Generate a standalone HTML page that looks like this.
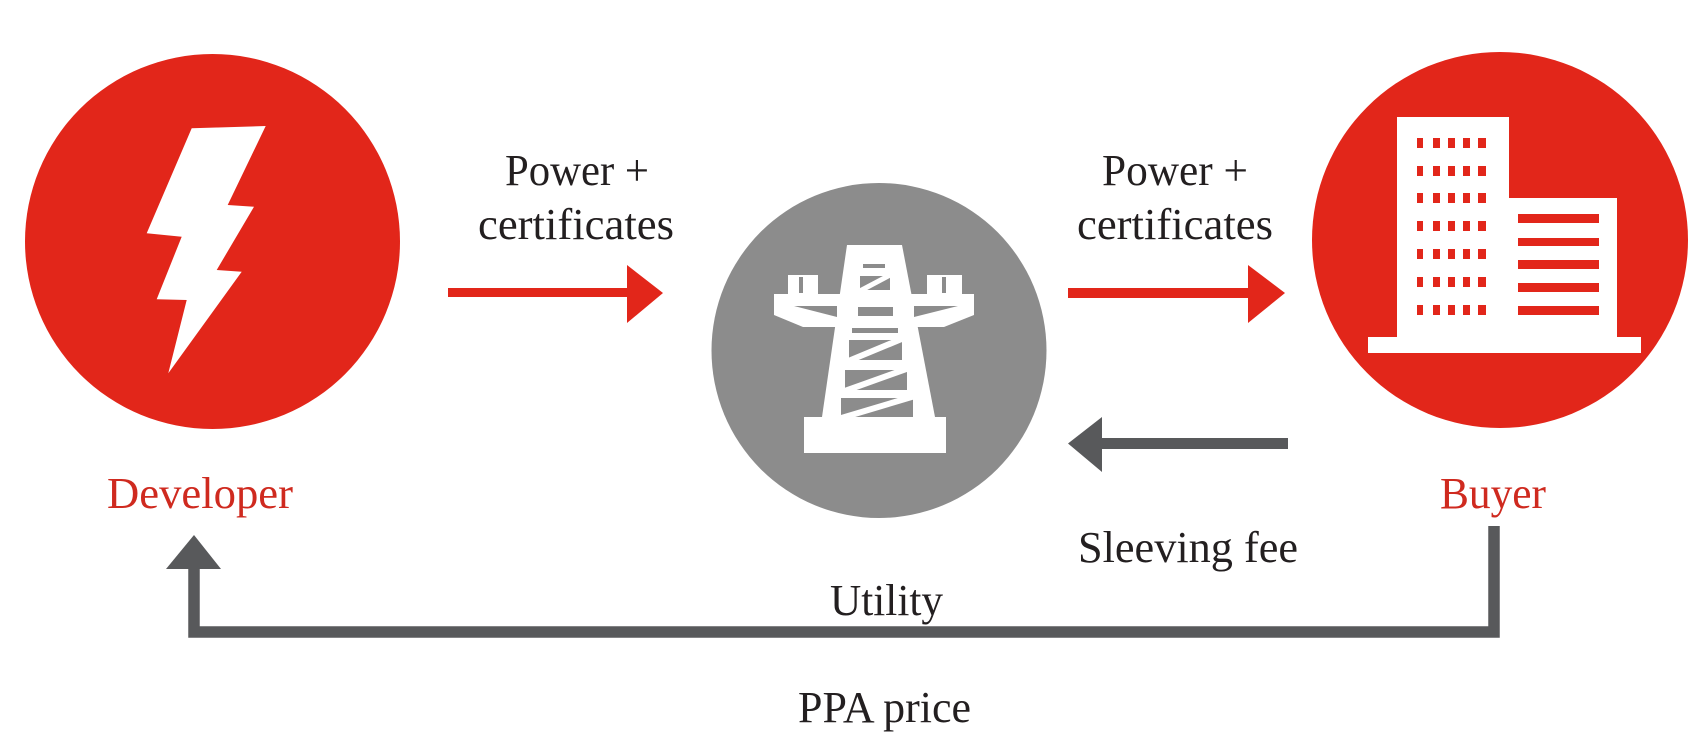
<!DOCTYPE html>
<html>
<head>
<meta charset="utf-8">
<style>
  html, body { margin: 0; padding: 0; background: #ffffff; }
  body { width: 1702px; height: 746px; overflow: hidden; }
  svg { display: block; }
  text { font-family: "Liberation Serif", "DejaVu Serif", serif; font-size: 44px; }
</style>
</head>
<body>
<svg width="1702" height="746" viewBox="0 0 1702 746" xmlns="http://www.w3.org/2000/svg">
  <rect x="0" y="0" width="1702" height="746" fill="#ffffff"/>

  <!-- Developer circle -->
  <circle cx="212.5" cy="241.5" r="187.5" fill="#e2261a"/>
  <polygon fill="#ffffff" points="191.7,128.3 265.7,126 227.7,205 254,206.7 216.7,270 241.7,271.7 168.3,373.3 186.7,300 156.7,299.3 181.7,236.7 146.7,233.3"/>

  <!-- Utility circle -->
  <circle cx="879" cy="350.5" r="167.5" fill="#8c8c8c"/>
  <!-- tower -->
  <g>
    <!-- body -->
    <polygon fill="#ffffff" points="847,245 902,245 935,417 822,417"/>
    <!-- base -->
    <rect x="804" y="417" width="142" height="36" fill="#ffffff"/>
    <!-- crossarm -->
    <polygon fill="#ffffff" points="774,294 974,294 974,315 944,327 803,327 774,315"/>
    <!-- insulators -->
    <rect x="788" y="275" width="30" height="20" fill="#ffffff"/>
    <rect x="927" y="275" width="35" height="20" fill="#ffffff"/>
    <rect x="799" y="277" width="4" height="16" fill="#8c8c8c"/>
    <rect x="942" y="277" width="4" height="16" fill="#8c8c8c"/>
    <!-- crossarm gray wedges -->
    <polygon fill="#8c8c8c" points="794,306 837,306 837,317"/>
    <polygon fill="#8c8c8c" points="914,306 958,306 914,317"/>
    <!-- center crossarm opening -->
    <rect x="858" y="307" width="35" height="9" fill="#8c8c8c"/>
    <!-- top slot -->
    <rect x="863" y="264" width="22" height="4" fill="#8c8c8c"/>
    <!-- opening 1 -->
    <rect x="860" y="276" width="30" height="14" fill="#8c8c8c"/>
    <line x1="858" y1="292" x2="892" y2="274" stroke="#ffffff" stroke-width="5"/>
    <!-- slot 2 -->
    <rect x="852" y="328" width="46" height="5" fill="#8c8c8c"/>
    <!-- opening 2 -->
    <rect x="849" y="340" width="53" height="20" fill="#8c8c8c"/>
    <line x1="846" y1="362" x2="904" y2="338" stroke="#ffffff" stroke-width="6"/>
    <!-- opening 3 -->
    <rect x="845" y="370" width="62" height="20" fill="#8c8c8c"/>
    <line x1="842" y1="392" x2="909" y2="368" stroke="#ffffff" stroke-width="6"/>
    <!-- opening 4 -->
    <rect x="841" y="398" width="72" height="19" fill="#8c8c8c"/>
    <line x1="838" y1="419" x2="915" y2="396" stroke="#ffffff" stroke-width="6"/>
  </g>

  <!-- Buyer circle -->
  <circle cx="1500" cy="240" r="188" fill="#e2261a"/>
  <g fill="#ffffff">
    <rect x="1397" y="117" width="112" height="225"/>
    <rect x="1509" y="198" width="108" height="144"/>
    <rect x="1368" y="337" width="273" height="16"/>
  </g>
  <g fill="#e2261a">
    <!-- windows -->
    <g>
      <rect x="1417" y="138" width="6" height="10"/><rect x="1433" y="138" width="7" height="10"/><rect x="1448" y="138" width="7" height="10"/><rect x="1463" y="138" width="7" height="10"/><rect x="1478" y="138" width="8" height="10"/>
      <rect x="1417" y="166" width="6" height="10"/><rect x="1433" y="166" width="7" height="10"/><rect x="1448" y="166" width="7" height="10"/><rect x="1463" y="166" width="7" height="10"/><rect x="1478" y="166" width="8" height="10"/>
      <rect x="1417" y="193" width="6" height="10"/><rect x="1433" y="193" width="7" height="10"/><rect x="1448" y="193" width="7" height="10"/><rect x="1463" y="193" width="7" height="10"/><rect x="1478" y="193" width="8" height="10"/>
      <rect x="1417" y="221" width="6" height="10"/><rect x="1433" y="221" width="7" height="10"/><rect x="1448" y="221" width="7" height="10"/><rect x="1463" y="221" width="7" height="10"/><rect x="1478" y="221" width="8" height="10"/>
      <rect x="1417" y="249" width="6" height="10"/><rect x="1433" y="249" width="7" height="10"/><rect x="1448" y="249" width="7" height="10"/><rect x="1463" y="249" width="7" height="10"/><rect x="1478" y="249" width="8" height="10"/>
      <rect x="1417" y="277" width="6" height="10"/><rect x="1433" y="277" width="7" height="10"/><rect x="1448" y="277" width="7" height="10"/><rect x="1463" y="277" width="7" height="10"/><rect x="1478" y="277" width="8" height="10"/>
      <rect x="1417" y="305" width="6" height="10"/><rect x="1433" y="305" width="7" height="10"/><rect x="1448" y="305" width="7" height="10"/><rect x="1463" y="305" width="7" height="10"/><rect x="1478" y="305" width="8" height="10"/>
    </g>
    <!-- stripes -->
    <rect x="1518" y="214" width="81" height="9"/>
    <rect x="1518" y="238" width="81" height="8"/>
    <rect x="1518" y="260" width="81" height="9"/>
    <rect x="1518" y="283" width="81" height="9"/>
    <rect x="1518" y="306" width="81" height="9"/>
  </g>

  <!-- Red arrow 1 -->
  <rect x="448" y="288" width="181" height="9" fill="#e2261a"/>
  <polygon fill="#e2261a" points="627,265 663,293 627,323"/>
  <!-- Red arrow 2 -->
  <rect x="1068" y="288" width="182" height="10" fill="#e2261a"/>
  <polygon fill="#e2261a" points="1248,265 1285,293 1248,323"/>

  <!-- Gray sleeving arrow -->
  <rect x="1100" y="438" width="188" height="11" fill="#58595b"/>
  <polygon fill="#58595b" points="1102,417 1068,443.5 1102,472"/>

  <!-- PPA connector -->
  <polyline points="1494,526 1494,632 194,632 194,566" fill="none" stroke="#58595b" stroke-width="11.5" stroke-linejoin="miter"/>
  <polygon fill="#58595b" points="166,569 194,535 221,569"/>

  <!-- Labels -->
  <g fill="#231f20">
    <text x="505" y="185" textLength="144" lengthAdjust="spacingAndGlyphs">Power +</text>
    <text x="478" y="239" textLength="196" lengthAdjust="spacingAndGlyphs">certificates</text>
    <text x="1102" y="185" textLength="146" lengthAdjust="spacingAndGlyphs">Power +</text>
    <text x="1077" y="239" textLength="196" lengthAdjust="spacingAndGlyphs">certificates</text>
    <text x="1078" y="562" textLength="220" lengthAdjust="spacingAndGlyphs">Sleeving fee</text>
    <text x="830" y="615" textLength="113" lengthAdjust="spacingAndGlyphs">Utility</text>
    <text x="798" y="722" textLength="173" lengthAdjust="spacingAndGlyphs">PPA price</text>
  </g>
  <g fill="#cf2a1f">
    <text x="107" y="508" textLength="186" lengthAdjust="spacingAndGlyphs">Developer</text>
    <text x="1440" y="508" textLength="106" lengthAdjust="spacingAndGlyphs">Buyer</text>
  </g>
</svg>
</body>
</html>
